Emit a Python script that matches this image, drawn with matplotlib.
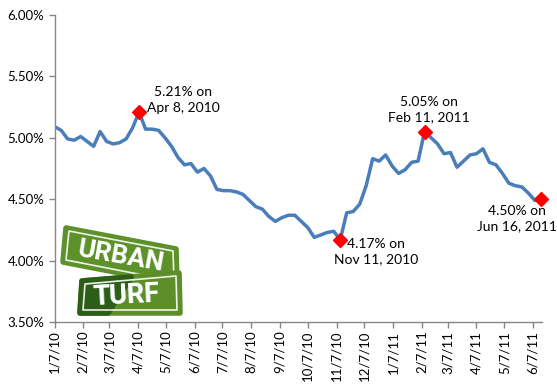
import numpy as np
import pandas as pd
import matplotlib
matplotlib.use('Agg')
import matplotlib.pyplot as plt
from matplotlib.patches import Polygon

# weekly 30-yr fixed rate (%), starting 1/7/2010
rates = [5.09, 5.06, 4.99, 4.98, 5.01, 4.97, 4.93, 5.05, 4.97, 4.95, 4.96, 4.99,
         5.08, 5.21, 5.07, 5.07, 5.06, 5.00, 4.93, 4.84, 4.78, 4.79, 4.72, 4.75,
         4.69, 4.58, 4.57, 4.57, 4.56, 4.54, 4.49, 4.44, 4.42, 4.36, 4.32, 4.35,
         4.37, 4.37, 4.32, 4.27, 4.19, 4.21, 4.23, 4.24, 4.17, 4.39, 4.40, 4.46,
         4.61, 4.83, 4.81, 4.86, 4.77, 4.71, 4.74, 4.80, 4.81, 5.05, 5.00, 4.95,
         4.87, 4.88, 4.76, 4.81, 4.86, 4.87, 4.91, 4.80, 4.78, 4.71, 4.63, 4.61,
         4.60, 4.55, 4.49, 4.50]
dates = pd.date_range('2010-01-07', periods=len(rates), freq='7D')

tick_dates = ['2010-01-07', '2010-02-07', '2010-03-07', '2010-04-07', '2010-05-07',
              '2010-06-07', '2010-07-07', '2010-08-07', '2010-09-07', '2010-10-07',
              '2010-11-07', '2010-12-07', '2011-01-07', '2011-02-07', '2011-03-07',
              '2011-04-07', '2011-05-07', '2011-06-07']
tick_labels = ['1/7/10', '2/7/10', '3/7/10', '4/7/10', '5/7/10', '6/7/10', '7/7/10',
               '8/7/10', '9/7/10', '10/7/10', '11/7/10', '12/7/10', '1/7/11',
               '2/7/11', '3/7/11', '4/7/11', '5/7/11', '6/7/11']
y_ticks = [3.5, 4.0, 4.5, 5.0, 5.5, 6.0]

# highlighted points and their callouts
hl_index = [13, 44, 57, 75]
hl_text = ['5.21% on\nApr 8, 2010', '4.17% on\nNov 11, 2010',
           '5.05% on\nFeb 11, 2011', '4.50% on\nJun 16, 2011']
hl_offset = [(44, 12), (36, -12), (4, 22), (-24, -19)]

plt.rcParams['font.family'] = ['Lato', 'DejaVu Sans']

fig = plt.figure(figsize=(5.57, 3.84), dpi=100)
ax = fig.add_axes([54.7 / 557, 1 - 322.3 / 384, (542.3 - 54.7) / 557, (322.3 - 14.7) / 384])

ax.plot(dates, rates, color='#4A7EBB', lw=2.5, solid_joinstyle='round', zorder=2)
hl_dates = [dates[i] for i in hl_index]
hl_vals = [rates[i] for i in hl_index]
ax.plot(hl_dates, hl_vals, 'D', color='red', ms=7, zorder=3, clip_on=False)
for d, v, t, off in zip(hl_dates, hl_vals, hl_text, hl_offset):
    ax.annotate(t, (d, v), xytext=off, textcoords='offset pixels',
                ha='center', va='center', fontsize=10, linespacing=1.35)

ax.set_xlim(dates[0], dates[-1] + pd.Timedelta(days=1))
ax.set_ylim(3.5, 6.0)
ax.set_xticks(pd.to_datetime(tick_dates))
ax.set_xticklabels(tick_labels, rotation=90)
ax.set_yticks(y_ticks)
ax.set_yticklabels(['%.2f%%' % v for v in y_ticks])

for s in ['top', 'right']:
    ax.spines[s].set_visible(False)
for s in ['left', 'bottom']:
    ax.spines[s].set_color('#868686')
    ax.spines[s].set_linewidth(1.0)
ax.tick_params(colors='#868686', labelcolor='black', labelsize=9.5, length=4, width=1)
ax.tick_params(axis='x', pad=2)

# Urban Turf logo, drawn in figure pixel space
lg = fig.add_axes([0, 0, 1, 1], zorder=5)
lg.set_xlim(0, 557)
lg.set_ylim(384, 0)
lg.axis('off')
lg.patch.set_alpha(0)

urban = Polygon([(66, 228), (176, 249), (177, 284), (63, 262)], closed=True,
                fc='#5d9129', ec='#5d9129', lw=4, joinstyle='round')
lg.add_patch(urban)
lg.add_patch(Polygon([(69, 231), (173, 251), (174, 281), (66, 260)], closed=True,
                     fill=False, ec='white', lw=1.2, joinstyle='round', alpha=0.9))
lg.text(121, 257, 'URBAN', color='white', fontsize=19, fontweight='bold',
        family='Roboto', ha='center', va='center', rotation=-10, rotation_mode='anchor')

turf = Polygon([(82, 281), (179, 273), (180, 313), (80, 313)], closed=True,
               fc='#5d8f28', ec='#5d8f28', lw=4, joinstyle='round')
lg.add_patch(turf)
dark = Polygon([(82, 281), (131, 277), (108, 313), (80, 313)], closed=True,
               fc='#2d5e18', ec='#2d5e18', lw=4, joinstyle='round')
lg.add_patch(dark)
lg.add_patch(Polygon([(85, 284), (176, 276), (177, 310), (83, 310)], closed=True,
                     fill=False, ec='white', lw=1.2, joinstyle='round', alpha=0.9))
t1 = lg.text(126, 296, 'TURF', color='#a6c7c4', fontsize=19.5, fontweight='bold',
             family='Roboto', ha='center', va='center', rotation=3, rotation_mode='anchor')
t1.set_clip_path(dark)
light = Polygon([(131, 277), (179, 273), (180, 313), (108, 313)], closed=True,
                fc='none', ec='none')
lg.add_patch(light)
t2 = lg.text(126, 296, 'TURF', color='white', fontsize=19.5, fontweight='bold',
             family='Roboto', ha='center', va='center', rotation=3, rotation_mode='anchor')
t2.set_clip_path(light)

fig.savefig('out.png', dpi=100)
